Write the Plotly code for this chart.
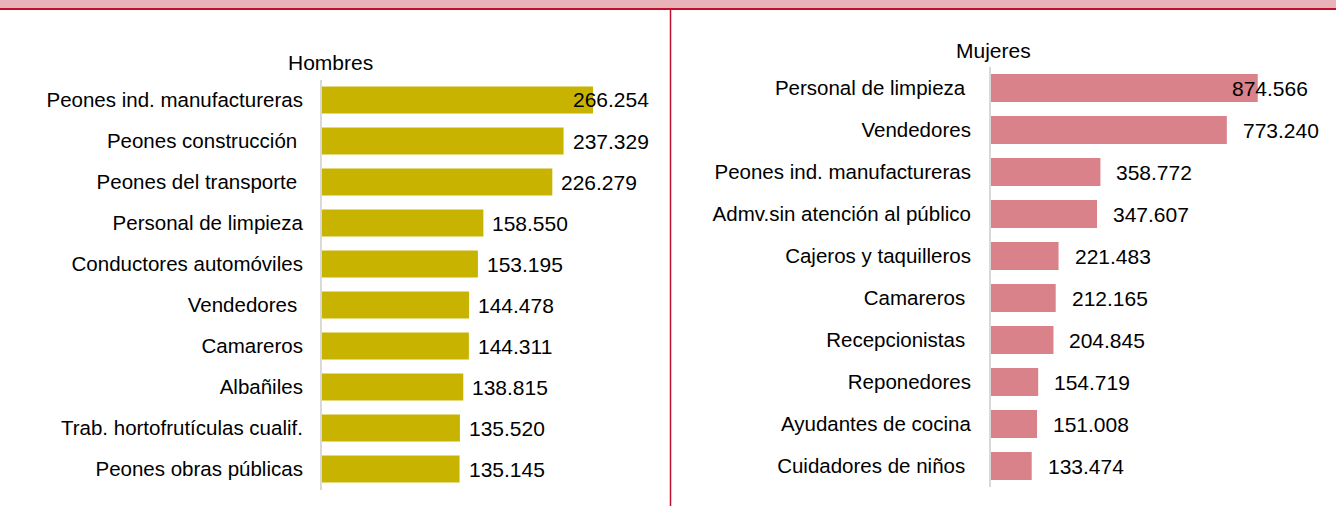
import plotly.graph_objects as go

W, H = 1336, 506

men_cats = ["Peones ind. manufactureras", "Peones construcción ", "Peones del transporte ",
            "Personal de limpieza", "Conductores automóviles", "Vendedores ", "Camareros",
            "Albañiles", "Trab. hortofrutículas cualif.", "Peones obras públicas"]
men_vals = [266254, 237329, 226279, 158550, 153195, 144478, 144311, 138815, 135520, 135145]
men_labels = ["266.254", "237.329", "226.279", "158.550", "153.195", "144.478", "144.311",
              "138.815", "135.520", "135.145"]

women_cats = ["Personal de limpieza ", "Vendedores", "Peones ind. manufactureras",
              "Admv.sin atención al público", "Cajeros y taquilleros", "Camareros ",
              "Recepcionistas ", "Reponedores", "Ayudantes de cocina", "Cuidadores de niños "]
women_vals = [874566, 773240, 358772, 347607, 221483, 212165, 204845, 154719, 151008, 133474]
women_labels = ["874.566", "773.240", "358.772", "347.607", "221.483", "212.165", "204.845",
                "154.719", "151.008", "133.474"]

FONT = "Liberation Sans, Arial, sans-serif"
MEN_COLOR = "#c8b400"
WOMEN_COLOR = "#d9828a"
RED = "#c0102c"
LABEL_SIZE = 20.5
VALUE_SIZE = 21

def disp(s):
    return s.replace(" ", "\u00a0") if s.endswith(" ") else s

fig = go.Figure()

fig.add_trace(go.Bar(
    x=men_vals, y=men_cats, orientation="h", marker=dict(color=MEN_COLOR, line=dict(width=0)),
    width=0.66, xaxis="x", yaxis="y", hoverinfo="skip", showlegend=False))
fig.add_trace(go.Bar(
    x=women_vals, y=women_cats, orientation="h", marker=dict(color=WOMEN_COLOR, line=dict(width=0)),
    width=0.67, xaxis="x2", yaxis="y2", hoverinfo="skip", showlegend=False))

def xd(a, b):
    return [a / W, b / W]

def yd(top, bottom):
    return [(H - bottom) / H, (H - top) / H]

men_dx = xd(322, 651)
men_dy = yd(79.5, 489.5)
wom_dx = xd(991, 1310)
wom_dy = yd(67, 487)

men_max = (651 - 322) / 1.0178 * 1000
wom_max = (1310 - 991) / 0.3050 * 1000

axis_common = dict(showgrid=False, zeroline=False, showticklabels=False, ticks="", fixedrange=True)

fig.update_layout(
    width=W, height=H,
    margin=dict(l=0, r=0, t=0, b=0),
    paper_bgcolor="white", plot_bgcolor="rgba(0,0,0,0)",
    font=dict(family=FONT, size=20, color="#000000"),
    xaxis=dict(domain=men_dx, range=[0, men_max], anchor="y", **axis_common),
    yaxis=dict(domain=men_dy, anchor="x", autorange="reversed", categoryorder="array",
               categoryarray=men_cats, tickvals=men_cats, ticktext=[disp(c) for c in men_cats],
               showline=True, linecolor="#d9d9d9", linewidth=2, showgrid=False, zeroline=False,
               ticks="", ticklabelstandoff=13, tickfont=dict(size=LABEL_SIZE, family=FONT)),
    xaxis2=dict(domain=wom_dx, range=[0, wom_max], anchor="y2", **axis_common),
    yaxis2=dict(domain=wom_dy, anchor="x2", autorange="reversed", categoryorder="array",
                categoryarray=women_cats, tickvals=women_cats, ticktext=[disp(c) for c in women_cats],
                showline=True, linecolor="#d9d9d9", linewidth=2, showgrid=False, zeroline=False,
                ticks="", ticklabelstandoff=14, tickfont=dict(size=LABEL_SIZE, family=FONT)),
    bargap=0.3,
)

annotations = []
for c, v, t in zip(men_cats, men_vals, men_labels):
    if v == max(men_vals):
        annotations.append(dict(xref="x domain", yref="y", x=1, y=c, text=t, showarrow=False,
                                xanchor="right", font=dict(size=VALUE_SIZE, family=FONT)))
    else:
        annotations.append(dict(xref="x", yref="y", x=v, y=c, text=t, showarrow=False,
                                xanchor="left", xshift=7, font=dict(size=VALUE_SIZE, family=FONT)))
for c, v, t in zip(women_cats, women_vals, women_labels):
    if v == max(women_vals):
        annotations.append(dict(xref="x2 domain", yref="y2", x=1, y=c, text=t, showarrow=False,
                                xanchor="right", font=dict(size=VALUE_SIZE, family=FONT)))
    else:
        annotations.append(dict(xref="x2", yref="y2", x=v, y=c, text=t, showarrow=False,
                                xanchor="left", xshift=14, font=dict(size=VALUE_SIZE, family=FONT)))

annotations.append(dict(xref="paper", yref="paper", x=330 / W, y=(H - 63) / H, text="Hombres",
                        showarrow=False, xanchor="center", yanchor="middle",
                        font=dict(size=21, family=FONT)))
annotations.append(dict(xref="paper", yref="paper", x=993 / W, y=(H - 51) / H, text="Mujeres",
                        showarrow=False, xanchor="center", yanchor="middle",
                        font=dict(size=21, family=FONT)))
fig.update_layout(annotations=annotations)

fig.update_layout(shapes=[
    dict(type="rect", xref="paper", yref="paper", x0=0, x1=1, y0=(H - 8) / H, y1=1,
         fillcolor="#e8b4b9", line=dict(width=0), layer="below"),
    dict(type="line", xref="paper", yref="paper", x0=0, x1=1, y0=(H - 9) / H, y1=(H - 9) / H,
         line=dict(color=RED, width=2)),
    dict(type="line", xref="paper", yref="paper", x0=670.5 / W, x1=670.5 / W, y0=0, y1=(H - 9) / H,
         line=dict(color=RED, width=1.5)),
])

fig.write_html(
    "out.html",
    config={"displayModeBar": False},
    post_script="document.body.style.margin='0';document.body.style.overflow='hidden';",
)
